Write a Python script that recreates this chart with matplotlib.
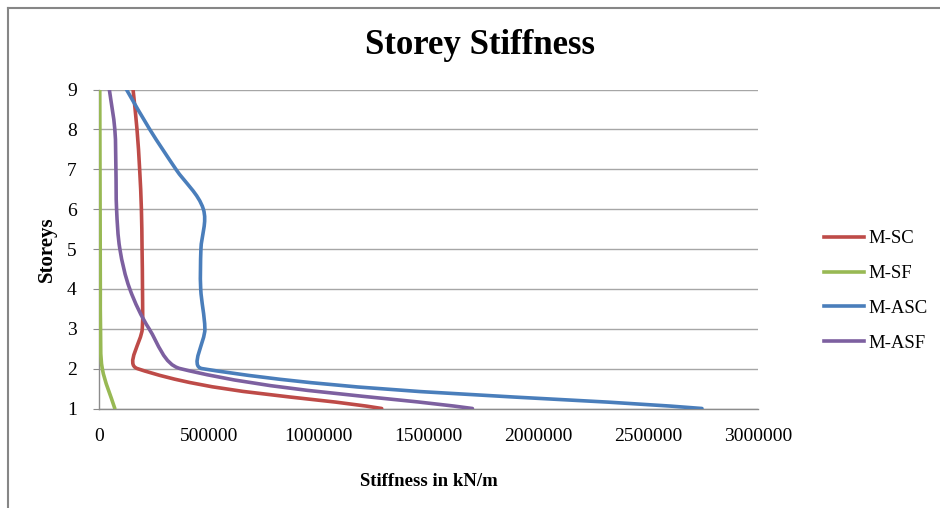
import numpy as np
import matplotlib
matplotlib.use("Agg")
import matplotlib.pyplot as plt
from matplotlib.path import Path
from matplotlib.patches import PathPatch
from matplotlib.lines import Line2D

storeys = [1, 2, 3, 4, 5, 6, 7, 8, 9]
m_sc = [1287000, 175000, 197000, 198000, 196000, 193000, 185000, 173000, 155000]
m_sf = [72000, 15000, 7000, 6000, 5500, 5000, 4500, 4000, 3500]
m_asc = [2745000, 470000, 482000, 463000, 464000, 475000, 350000, 231000, 125000]
m_asf = [1700000, 370000, 228000, 140000, 95000, 80000, 77000, 72000, 47000]

series_names = ["M-SC", "M-SF", "M-ASC", "M-ASF"]
series_vals = [m_sc, m_sf, m_asc, m_asf]
colors = ["#be4b48", "#98b954", "#4a7ebb", "#7d60a0"]

xticks = [0, 500000, 1000000, 1500000, 2000000, 2500000, 3000000]

W, H = 940, 508
fig = plt.figure(figsize=(W / 100, H / 100), dpi=100)
ax = fig.add_axes([99 / W, 1 - 408.5 / H, (758 - 99) / W, (408.5 - 89.5) / H])
ax.set_xlim(0, 3000000)
ax.set_ylim(1, 9)

serif = ["Liberation Serif", "DejaVu Serif"]


def smooth_path(ax, xs, ys, s=1.0 / 3.0):
    # Excel-like smoothing computed in display space
    pts = ax.transData.transform(np.column_stack([xs, ys]))
    n = len(pts)
    dirs = []
    for i in range(n):
        a = pts[max(i - 1, 0)]
        b = pts[min(i + 1, n - 1)]
        d = b - a
        nd = np.hypot(*d)
        dirs.append(d / nd if nd > 0 else np.zeros(2))
    verts = [pts[0]]
    codes = [Path.MOVETO]
    for i in range(n - 1):
        L = np.hypot(*(pts[i + 1] - pts[i]))
        c1 = pts[i] + dirs[i] * L * s
        c2 = pts[i + 1] - dirs[i + 1] * L * s
        verts += [c1, c2, pts[i + 1]]
        codes += [Path.CURVE4] * 3
    inv = ax.transData.inverted()
    return Path(inv.transform(np.array(verts)), codes)


handles = []
for name, vals, c in zip(series_names, series_vals, colors):
    p = smooth_path(ax, vals, storeys)
    ax.add_patch(PathPatch(p, facecolor="none", edgecolor=c, lw=2.6,
                           capstyle="round", joinstyle="round", zorder=3))
    handles.append(Line2D([], [], color=c, lw=2.6, label=name))

ax.set_yticks(storeys)
ax.set_xticks(xticks)
ax.set_xticklabels([str(v) for v in xticks])
ax.grid(axis="y", color="#a6a6a6", lw=1.0)
ax.set_axisbelow(True)
for sp in ["top", "right"]:
    ax.spines[sp].set_visible(False)
for sp in ["left", "bottom"]:
    ax.spines[sp].set_color("#8c8c8c")
    ax.spines[sp].set_linewidth(1.0)
ax.tick_params(axis="y", length=4, color="#8c8c8c", pad=12)
ax.tick_params(axis="x", length=0, pad=14)
for lab in ax.get_xticklabels() + ax.get_yticklabels():
    lab.set_family(serif)
    lab.set_fontsize(14)

ax.set_xlabel("Stiffness in kN/m", family=serif, fontsize=13.5, fontweight="bold", labelpad=20)
ax.set_ylabel("Storeys", family=serif, fontsize=15, fontweight="bold", labelpad=7)

fig.text(480 / W, 1 - 45 / H, "Storey Stiffness", family=serif, fontsize=25,
         fontweight="bold", ha="center", va="center")

leg = fig.legend(handles=handles, loc="center left", bbox_to_anchor=(824 / W, 1 - 291 / H),
                 frameon=False, prop={"family": serif, "size": 13.5},
                 borderpad=0, borderaxespad=0,
                 handlelength=2.15, handletextpad=0.2, labelspacing=0.95)

# chart border (top and left only visible)
fig.add_artist(Line2D([8 / W, 8 / W], [0, 1 - 7.5 / H], transform=fig.transFigure,
                      color="#868686", lw=1.5))
fig.add_artist(Line2D([8 / W, 1], [1 - 7.5 / H, 1 - 7.5 / H], transform=fig.transFigure,
                      color="#868686", lw=1.5))

fig.savefig("out.png", dpi=100)
